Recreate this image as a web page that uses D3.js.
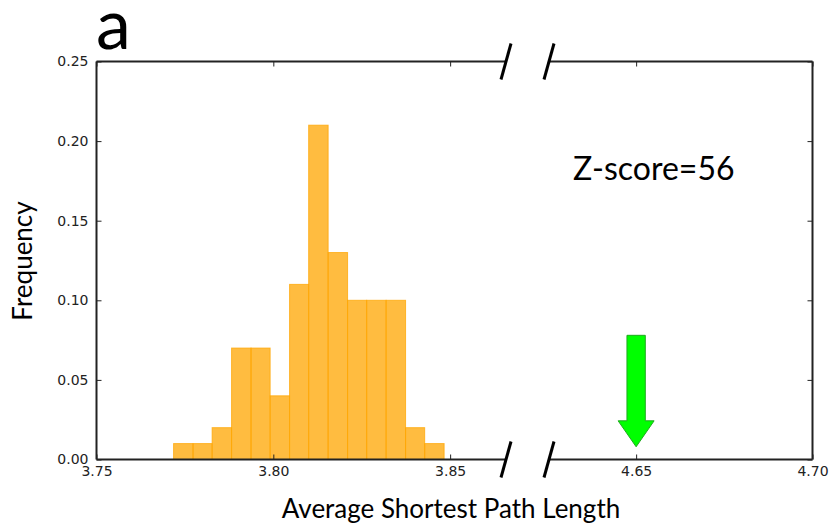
<!DOCTYPE html>
<html>
<head>
<meta charset="utf-8">
<script src="https://cdn.jsdelivr.net/npm/d3@7"></script>
<style>
  body { margin: 0; background: #fff; }
  svg { display: block; }
</style>
</head>
<body>
<div id="chart"></div>
<script>
// histogram of the randomised networks (bin edges + frequency per bin)
const binEdges = [3.7718, 3.7773, 3.7827, 3.7882, 3.7937, 3.7991, 3.8046, 3.8100,
                  3.8155, 3.8210, 3.8264, 3.8319, 3.8374, 3.8428, 3.8483];
const frequencies = [0.01, 0.01, 0.02, 0.07, 0.07, 0.04, 0.11, 0.21, 0.13, 0.10, 0.10, 0.10, 0.02, 0.01];

// real network value, shown with the arrow
const realValue = 4.65;
const arrowFrom = 0.078;
const arrowTo = 0.008;
const zLabel = 'Z-score=56';

const leftTicks = [3.75, 3.80, 3.85];
const rightTicks = [4.65, 4.70];
const yTicks = [0.00, 0.05, 0.10, 0.15, 0.20, 0.25];

const width = 833, height = 527;
const plotTop = 61.5, plotBottom = 459.5;

const svg = d3.select('#chart').append('svg')
    .attr('width', width)
    .attr('height', height);

// broken x axis: two pieces with the same px per unit
const xL = d3.scaleLinear().domain([3.75, 3.8658]).range([96.5, 506]);
const xR = d3.scaleLinear().domain([4.6253, 4.70]).range([549, 812.5]);
const y = d3.scaleLinear().domain([0, 0.25]).range([plotBottom, plotTop]);

const tickFont = "'DejaVu Sans', sans-serif";
const labelFont = "Lato, 'Open Sans', sans-serif";

// bars
const bins = frequencies.map((f, i) => ({x0: binEdges[i], x1: binEdges[i + 1], f}));
svg.append('g').selectAll('rect')
  .data(bins)
  .join('rect')
    .attr('x', d => xL(d.x0))
    .attr('y', d => y(d.f))
    .attr('width', d => xL(d.x1) - xL(d.x0))
    .attr('height', d => y(0) - y(d.f))
    .attr('fill', 'orange')
    .attr('fill-opacity', 0.75)
    .attr('stroke', 'orange')
    .attr('stroke-opacity', 0.75)
    .attr('stroke-width', 1);

// arrow (matplotlib style, drawn in the right axis' data units)
const shaftW = 0.0026, headW = 0.0051, headL = 0.0163;
const ax = realValue;
const arrowPts = [
  [ax - shaftW, arrowFrom],
  [ax + shaftW, arrowFrom],
  [ax + shaftW, arrowTo + headL],
  [ax + headW, arrowTo + headL],
  [ax, arrowTo],
  [ax - headW, arrowTo + headL],
  [ax - shaftW, arrowTo + headL]
];
svg.append('path')
    .attr('d', d3.line().x(d => xR(d[0])).y(d => y(d[1]))(arrowPts) + 'Z')
    .attr('fill', '#00ff00')
    .attr('stroke', '#1faa1f')
    .attr('stroke-width', 1);

// frame lines
const frame = svg.append('g').attr('stroke', '#222').attr('stroke-width', 2).attr('fill', 'none');
frame.append('line').attr('x1', xL.range()[0]).attr('x2', xL.range()[0]).attr('y1', plotTop).attr('y2', plotBottom);
frame.append('line').attr('x1', xL.range()[0]).attr('x2', xL.range()[1]).attr('y1', plotTop).attr('y2', plotTop);
frame.append('line').attr('x1', xL.range()[0]).attr('x2', xL.range()[1]).attr('y1', plotBottom).attr('y2', plotBottom);
frame.append('line').attr('x1', xR.range()[1]).attr('x2', xR.range()[1]).attr('y1', plotTop).attr('y2', plotBottom);
frame.append('line').attr('x1', xR.range()[0]).attr('x2', xR.range()[1]).attr('y1', plotTop).attr('y2', plotTop);
frame.append('line').attr('x1', xR.range()[0]).attr('x2', xR.range()[1]).attr('y1', plotBottom).attr('y2', plotBottom);

// axes with inward ticks
function styleAxis(g) {
  g.select('.domain').remove();
  g.selectAll('.tick line').attr('stroke', '#222').attr('stroke-width', 1);
  g.selectAll('.tick text').attr('fill', '#222').style('font-family', tickFont).style('font-size', '14px');
}
const fmtX = d3.format('.2f');

svg.append('g').attr('transform', `translate(0,${plotBottom})`)
    .call(d3.axisBottom(xL).tickValues(leftTicks).tickFormat(fmtX).tickSizeInner(-5).tickPadding(7))
    .call(styleAxis);
svg.append('g').attr('transform', `translate(0,${plotBottom})`)
    .call(d3.axisBottom(xR).tickValues(rightTicks).tickFormat(fmtX).tickSizeInner(-5).tickPadding(7))
    .call(styleAxis);
svg.append('g').attr('transform', `translate(0,${plotTop})`)
    .call(d3.axisTop(xL).tickValues(leftTicks).tickFormat('').tickSizeInner(-5))
    .call(styleAxis);
svg.append('g').attr('transform', `translate(0,${plotTop})`)
    .call(d3.axisTop(xR).tickValues(rightTicks).tickFormat('').tickSizeInner(-5))
    .call(styleAxis);
svg.append('g').attr('transform', `translate(${xL.range()[0]},0)`)
    .call(d3.axisLeft(y).tickValues(yTicks).tickFormat(fmtX).tickSizeInner(-5).tickPadding(8))
    .call(styleAxis);
svg.append('g').attr('transform', `translate(${xR.range()[1]},0)`)
    .call(d3.axisRight(y).tickValues(yTicks).tickFormat('').tickSizeInner(-5))
    .call(styleAxis);

// break marks
const slashes = [xL.range()[1], xR.range()[0]];
const brk = svg.append('g').attr('stroke', '#000').attr('stroke-width', 3);
[plotTop, plotBottom].forEach(yy => {
  slashes.forEach(xx => {
    brk.append('line')
        .attr('x1', xx - 5).attr('y1', yy + 18)
        .attr('x2', xx + 5).attr('y2', yy - 18);
  });
});

// texts
svg.append('text')
    .attr('x', 96).attr('y', 49)
    .style('font-family', labelFont).style('font-size', '70px')
    .text('a');

svg.append('text')
    .attr('x', 573).attr('y', 180)
    .style('font-family', labelFont).style('font-size', '32px')
    .text(zLabel);

svg.append('text')
    .attr('x', 451).attr('y', 518)
    .attr('text-anchor', 'middle')
    .style('font-family', labelFont).style('font-size', '26px')
    .text('Average Shortest Path Length');

svg.append('text')
    .attr('transform', 'translate(32,261) rotate(-90)')
    .attr('text-anchor', 'middle')
    .style('font-family', labelFont).style('font-size', '26px')
    .text('Frequency');
</script>
</body>
</html>
